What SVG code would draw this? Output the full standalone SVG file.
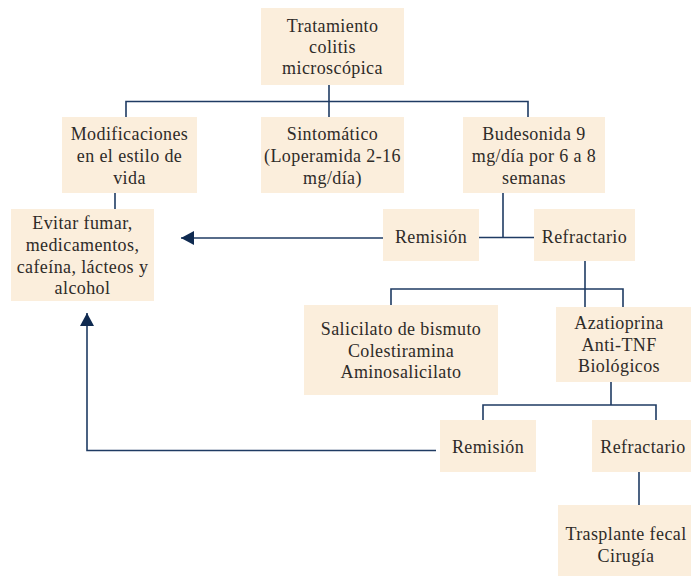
<svg xmlns="http://www.w3.org/2000/svg" width="691" height="576" viewBox="0 0 691 576">
<defs>
<style>
.box{fill:#fbeedc;}
.t{font-family:"Liberation Serif","Times New Roman",serif;font-size:18px;fill:#2e2b28;text-anchor:middle;letter-spacing:0.4px;}
.ln{fill:none;stroke:#1f3b63;stroke-width:1.6;}
</style>
<marker id="ah" markerUnits="userSpaceOnUse" markerWidth="14" markerHeight="14" refX="13" refY="7" orient="auto">
<path d="M0,0 L13,7 L0,14 Z" fill="#0f2a50"/>
</marker>
</defs>
<rect width="691" height="576" fill="#ffffff"/>
<g id="connectors">
<path class="ln" d="M329,85 V117"/>
<path class="ln" d="M126,117 V101.5 H528 V117"/>
<path class="ln" d="M115,193 V209"/>
<path class="ln" d="M503,193 V237.5"/>
<path class="ln" d="M479,237.5 H534"/>
<path class="ln" d="M383,238 H181" marker-end="url(#ah)"/>
<path class="ln" d="M585,261 V307"/>
<path class="ln" d="M391,305 V289 H623 V307"/>
<path class="ln" d="M611,382 V405"/>
<path class="ln" d="M483,420 V405 H656 V420"/>
<path class="ln" d="M436,450.5 H87 V313" marker-end="url(#ah)"/>
<path class="ln" d="M639,472 V505"/>
</g>
<g id="n-tratamiento">
<rect class="box" x="261" y="8" width="143" height="77"/>
<text class="t" x="332.5" y="32">Tratamiento</text>
<text class="t" x="332.5" y="53">colitis</text>
<text class="t" x="332.5" y="74">microscópica</text>
</g>
<g id="n-modificaciones">
<rect class="box" x="62" y="117" width="135" height="76"/>
<text class="t" x="129.5" y="140">Modificaciones</text>
<text class="t" x="129.5" y="162">en el estilo de</text>
<text class="t" x="129.5" y="184">vida</text>
</g>
<g id="n-sintomatico">
<rect class="box" x="261" y="117" width="143" height="76"/>
<text class="t" x="332.5" y="140">Sintomático</text>
<text class="t" x="332.5" y="162">(Loperamida 2-16</text>
<text class="t" x="332.5" y="184">mg/día)</text>
</g>
<g id="n-budesonida">
<rect class="box" x="463" y="117" width="142" height="76"/>
<text class="t" x="534" y="140">Budesonida 9</text>
<text class="t" x="534" y="162">mg/día por 6 a 8</text>
<text class="t" x="534" y="184">semanas</text>
</g>
<g id="n-evitar">
<rect class="box" x="11" y="209" width="143" height="92"/>
<text class="t" x="82.5" y="229">Evitar fumar,</text>
<text class="t" x="82.5" y="251">medicamentos,</text>
<text class="t" x="82.5" y="272.5">cafeína, lácteos y</text>
<text class="t" x="82.5" y="294">alcohol</text>
</g>
<g id="n-remision1">
<rect class="box" x="383" y="209" width="96" height="52"/>
<text class="t" x="431" y="243">Remisión</text>
</g>
<g id="n-refractario1">
<rect class="box" x="534" y="209" width="101" height="52"/>
<text class="t" x="584.5" y="243">Refractario</text>
</g>
<g id="n-salicilato">
<rect class="box" x="304" y="305" width="194" height="90"/>
<text class="t" x="401" y="335">Salicilato de bismuto</text>
<text class="t" x="401" y="357">Colestiramina</text>
<text class="t" x="401" y="378">Aminosalicilato</text>
</g>
<g id="n-azatioprina">
<rect class="box" x="556" y="307" width="140" height="75"/>
<text class="t" x="619" y="329">Azatioprina</text>
<text class="t" x="619" y="351">Anti-TNF</text>
<text class="t" x="619" y="372">Biológicos</text>
</g>
<g id="n-remision2">
<rect class="box" x="440" y="420" width="96" height="52"/>
<text class="t" x="488" y="453">Remisión</text>
</g>
<g id="n-refractario2">
<rect class="box" x="592" y="420" width="104" height="52"/>
<text class="t" x="643" y="453">Refractario</text>
</g>
<g id="n-trasplante">
<rect class="box" x="558" y="505" width="138" height="80"/>
<text class="t" x="626" y="540">Trasplante fecal</text>
<text class="t" x="626" y="562">Cirugía</text>
</g>
</svg>
